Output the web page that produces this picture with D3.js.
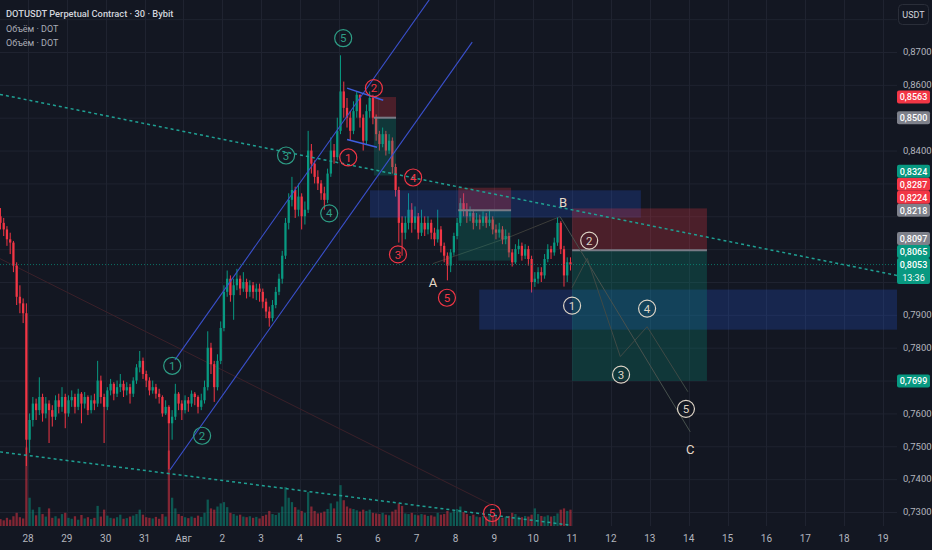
<!DOCTYPE html>
<html>
<head>
<meta charset="utf-8">
<script src="https://cdn.jsdelivr.net/npm/d3@7"></script>
<style>
  html, body { margin: 0; padding: 0; background: #131722; }
  svg { display: block; font-family: Roboto, "Noto Sans", sans-serif; }
</style>
</head>
<body>
<div id="chart"></div>
<script>
var width = 932, height = 550
var plotRight = 897, plotBottom = 526

var title = "DOTUSDT Perpetual Contract · 30 · Bybit"
var legendLines = ["Объём · DOT", "Объём · DOT"]

// 2h bars, first one opens 27 Jul 06:00
var firstBar = new Date(2025, 6, 27, 6)
var barHours = 2
var firstOpen = 0.8200

var closes = [
    0.8180, 0.8160, 0.8130, 0.8120, 0.8050, 0.7955, 0.7935, 0.7905, 0.7520, 0.7580,
    0.7630, 0.7610, 0.7650, 0.7600, 0.7630, 0.7610, 0.7590, 0.7640, 0.7620, 0.7650,
    0.7600, 0.7640, 0.7650, 0.7620, 0.7660, 0.7630, 0.7650, 0.7610, 0.7640, 0.7630,
    0.7700, 0.7650, 0.7620, 0.7670, 0.7690, 0.7660, 0.7680, 0.7690, 0.7670, 0.7680,
    0.7660, 0.7700, 0.7740, 0.7760, 0.7720, 0.7700, 0.7670, 0.7680, 0.7660, 0.7650,
    0.7600, 0.7620, 0.7570, 0.7590, 0.7660, 0.7630, 0.7610, 0.7640, 0.7630, 0.7660,
    0.7650, 0.7620, 0.7640, 0.7680, 0.7800, 0.7750, 0.7680, 0.7760, 0.7860, 0.7970,
    0.8010, 0.7960, 0.7990, 0.8010, 0.7980, 0.8000, 0.7970, 0.7990, 0.7970, 0.7980,
    0.7970, 0.7940, 0.7910, 0.7890, 0.7930, 0.7970, 0.8010, 0.8080, 0.8180, 0.8250,
    0.8280, 0.8220, 0.8260, 0.8200, 0.8220, 0.8400, 0.8360, 0.8320, 0.8300, 0.8270,
    0.8250, 0.8330, 0.8400, 0.8380, 0.8460, 0.8580, 0.8530, 0.8500, 0.8460, 0.8520,
    0.8570, 0.8500, 0.8430, 0.8520, 0.8560, 0.8500, 0.8450, 0.8420, 0.8450, 0.8400,
    0.8430, 0.8350, 0.8280, 0.8180, 0.8150, 0.8180, 0.8220, 0.8180, 0.8200, 0.8150,
    0.8180, 0.8160, 0.8180, 0.8150, 0.8130, 0.8160, 0.8110, 0.8080, 0.8050, 0.8090,
    0.8140, 0.8180, 0.8240, 0.8220, 0.8200, 0.8210, 0.8180, 0.8190, 0.8180, 0.8200,
    0.8180, 0.8190, 0.8160, 0.8150, 0.8160, 0.8130, 0.8140, 0.8090, 0.8060, 0.8100,
    0.8110, 0.8080, 0.8100, 0.8070, 0.8000, 0.8010, 0.8030, 0.8020, 0.8070, 0.8100,
    0.8090, 0.8120, 0.8180, 0.8100, 0.8020, 0.8060, 0.8053
]
var highs = [
    0.8225, 0.8195, 0.8170, 0.8150, 0.8125, 0.8060, 0.7990, 0.7950, 0.7935, 0.7600,
    0.7650, 0.7645, 0.7710, 0.7660, 0.7650, 0.7640, 0.7625, 0.7655, 0.7660, 0.7680,
    0.7660, 0.7655, 0.7670, 0.7660, 0.7675, 0.7665, 0.7665, 0.7655, 0.7655, 0.7660,
    0.7760, 0.7715, 0.7660, 0.7680, 0.7705, 0.7695, 0.7700, 0.7720, 0.7700, 0.7695,
    0.7690, 0.7710, 0.7750, 0.7790, 0.7770, 0.7730, 0.7710, 0.7700, 0.7690, 0.7675,
    0.7655, 0.7640, 0.7625, 0.7610, 0.7690, 0.7665, 0.7640, 0.7655, 0.7650, 0.7670,
    0.7665, 0.7655, 0.7660, 0.7700, 0.7850, 0.7815, 0.7760, 0.7780, 0.7880, 0.7990,
    0.8035, 0.8020, 0.8010, 0.8040, 0.8020, 0.8030, 0.8010, 0.8005, 0.8000, 0.7995,
    0.7995, 0.7980, 0.7950, 0.7925, 0.7945, 0.7985, 0.8025, 0.8095, 0.8195, 0.8270,
    0.8320, 0.8290, 0.8300, 0.8270, 0.8245, 0.8460, 0.8420, 0.8370, 0.8340, 0.8310,
    0.8290, 0.8345, 0.8440, 0.8420, 0.8500, 0.8690, 0.8610, 0.8560, 0.8520, 0.8550,
    0.8580, 0.8570, 0.8510, 0.8540, 0.8580, 0.8570, 0.8510, 0.8460, 0.8470, 0.8460,
    0.8450, 0.8440, 0.8360, 0.8290, 0.8200, 0.8200, 0.8270, 0.8240, 0.8230, 0.8210,
    0.8220, 0.8200, 0.8200, 0.8190, 0.8165, 0.8220, 0.8170, 0.8120, 0.8090, 0.8100,
    0.8150, 0.8195, 0.8255, 0.8270, 0.8240, 0.8230, 0.8220, 0.8210, 0.8205, 0.8215,
    0.8210, 0.8220, 0.8200, 0.8175, 0.8180, 0.8170, 0.8160, 0.8150, 0.8100, 0.8115,
    0.8130, 0.8120, 0.8115, 0.8110, 0.8080, 0.8030, 0.8045, 0.8045, 0.8085, 0.8115,
    0.8110, 0.8135, 0.8196, 0.8185, 0.8110, 0.8075, 0.8075
]
var lows = [
    0.8160, 0.8140, 0.8110, 0.8085, 0.8030, 0.7930, 0.7905, 0.7875, 0.7440, 0.7480,
    0.7560, 0.7580, 0.7595, 0.7575, 0.7585, 0.7510, 0.7560, 0.7580, 0.7600, 0.7605,
    0.7555, 0.7590, 0.7620, 0.7600, 0.7610, 0.7570, 0.7615, 0.7595, 0.7600, 0.7610,
    0.7620, 0.7630, 0.7510, 0.7610, 0.7655, 0.7640, 0.7650, 0.7665, 0.7650, 0.7655,
    0.7630, 0.7650, 0.7690, 0.7725, 0.7705, 0.7680, 0.7655, 0.7660, 0.7645, 0.7630,
    0.7590, 0.7595, 0.7430, 0.7520, 0.7580, 0.7610, 0.7580, 0.7600, 0.7605, 0.7620,
    0.7625, 0.7600, 0.7610, 0.7630, 0.7670, 0.7720, 0.7635, 0.7670, 0.7750, 0.7850,
    0.7955, 0.7940, 0.7885, 0.7975, 0.7960, 0.7970, 0.7950, 0.7955, 0.7950, 0.7945,
    0.7940, 0.7920, 0.7890, 0.7864, 0.7880, 0.7920, 0.7960, 0.7995, 0.8070, 0.8160,
    0.8230, 0.8195, 0.8200, 0.8160, 0.8175, 0.8210, 0.8330, 0.8300, 0.8280, 0.8250,
    0.8220, 0.8240, 0.8320, 0.8360, 0.8370, 0.8450, 0.8500, 0.8470, 0.8430, 0.8450,
    0.8500, 0.8470, 0.8400, 0.8420, 0.8500, 0.8480, 0.8430, 0.8400, 0.8410, 0.8385,
    0.8390, 0.8330, 0.8260, 0.8120, 0.8080, 0.8130, 0.8160, 0.8150, 0.8160, 0.8130,
    0.8140, 0.8140, 0.8145, 0.8130, 0.8110, 0.8120, 0.8090, 0.8060, 0.8005, 0.8030,
    0.8080, 0.8130, 0.8170, 0.8200, 0.8180, 0.8185, 0.8160, 0.8170, 0.8160, 0.8170,
    0.8165, 0.8170, 0.8145, 0.8130, 0.8135, 0.8115, 0.8115, 0.8075, 0.8047, 0.8055,
    0.8085, 0.8065, 0.8070, 0.8050, 0.7968, 0.7985, 0.7995, 0.8000, 0.8010, 0.8060,
    0.8070, 0.8080, 0.8110, 0.8085, 0.7986, 0.8000, 0.8035
]
var volumes = [
    220, 180, 260, 200, 310, 420, 280, 240, 2500, 900,
    520, 340, 600, 380, 300, 560, 260, 310, 240, 380,
    420, 260, 230, 310, 200, 350, 240, 280, 220, 260,
    640, 300, 520, 330, 260, 240, 280, 360, 230, 250,
    300, 330, 380, 520, 360, 280, 260, 240, 290, 230,
    380, 300, 2400, 900, 560, 380, 320, 280, 250, 300,
    260, 330, 290, 420, 840, 560, 520, 620, 720, 760,
    600, 420, 380, 330, 360, 300, 280, 310, 260, 290,
    240, 320, 360, 480, 380, 350, 420, 620, 1240, 900,
    760, 600, 520, 480, 420, 1080, 620, 480, 400, 420,
    460, 540, 720, 560, 780, 1300, 820, 620, 560, 540,
    500, 460, 520, 480, 520, 420, 400, 380, 420, 360,
    340, 460, 520, 720, 640, 400, 380, 420, 360, 340,
    380, 360, 320, 340, 300, 420, 360, 380, 480, 420,
    480, 540, 620, 440, 380, 320, 360, 300, 280, 320,
    300, 320, 340, 300, 280, 260, 300, 320, 420, 380,
    300, 280, 320, 300, 360, 560, 380, 320, 300, 340,
    300, 320, 400, 520, 560, 480, 520
]
var countdown = "13:36"

var dayLabels = ["28", "29", "30", "31", "Авг", "2", "3", "4", "5", "6", "7", "8",
                 "9", "10", "11", "12", "13", "14", "15", "16", "17", "18", "19"]
var priceTicks = [0.73, 0.74, 0.75, 0.76, 0.77, 0.78, 0.79, 0.80,
                  0.81, 0.82, 0.83, 0.84, 0.85, 0.86, 0.87]
var gridPrices = [0.72].concat(priceTicks, [0.88])

// drawings, times are days after 28 Jul 00:00
var trendUpper = [[-0.72, 0.8571], [22.36, 0.8020]]
var trendLower = [[-0.72, 0.7483], [13.95, 0.7260]]
var channelTop = [[3.78, 0.7763], [10.60, 0.8905]]
var channelBottom = [[3.65, 0.7428], [11.43, 0.8730]]
var flagTop = [[8.21, 0.8590], [9.14, 0.8553]]
var flagBottom = [[8.21, 0.8434], [8.98, 0.8410]]
var faintRed = [[-0.72, 0.8071], [11.94, 0.7321]]
var abPath = [[10.42, 0.8056], [12.35, 0.8135], [13.69, 0.8199]]
var bcPath = [[13.69, 0.8199], [17.04, 0.7544]]
var projPath = [[14.0, 0.7983], [14.39, 0.8072], [15.24, 0.7773], [15.93, 0.7864], [16.98, 0.7666]]

var positions = [
    { from: 8.90, to: 9.47, stop: 0.8563, entry: 0.8500, target: 0.8324 },
    { from: 11.07, to: 12.43, stop: 0.8287, entry: 0.8218, target: 0.8065 },
    { from: 14.00, to: 17.47, stop: 0.8224, entry: 0.8097, target: 0.7699 }
]
var zones = [
    { from: 8.80, to: 15.77, top: 0.8279, bottom: 0.8196 },
    { from: 11.61, to: 23.0, top: 0.7977, bottom: 0.7855 }
]

var greenWave = [["1", 3.71, 0.7745], ["2", 4.48, 0.7532], ["3", 6.64, 0.8385], ["4", 7.75, 0.8209], ["5", 8.11, 0.8742]]
var redWave = [["1", 8.24, 0.8379], ["2", 8.90, 0.8590], ["3", 9.52, 0.8084], ["4", 9.91, 0.8318], ["5", 10.78, 0.7952], ["5", 11.94, 0.7297]]
var lightWave = [["1", 14.00, 0.7928], ["2", 14.44, 0.8126], ["3", 15.26, 0.7718], ["4", 15.93, 0.7919], ["5", 16.93, 0.7614]]
var letters = [["A", 10.42, 0.7998], ["B", 13.77, 0.8242], ["C", 17.04, 0.7492]]

var upColor = "#089981", downColor = "#f23645", grayTag = "#7e818b"

var origin = new Date(2025, 6, 28)
function dayTime(d) {
    return new Date(origin.getTime() + d * 864e5)
}

var x = d3.scaleTime()
    .domain([origin, new Date(2025, 7, 19)])
    .range([28, 883])
var y = d3.scaleLinear()
    .domain([0.73, 0.87])
    .range([512, 52])
var vy = d3.scaleLinear()
    .domain([0, 2800])
    .range([0, 88])

function px(p) { return x(dayTime(p[0])) }
function py(p) { return y(p[1]) }
var line = d3.line().x(px).y(py)
var priceFormat = function(p) { return d3.format(".4f")(p).replace(".", ",") }

var bars = closes.map(function(c, i) {
    return {
        time: d3.timeHour.offset(firstBar, i * barHours + barHours / 2),
        open: i ? closes[i - 1] : firstOpen,
        close: c,
        high: highs[i],
        low: lows[i],
        volume: volumes[i]
    }
})
var barStep = x(d3.timeHour.offset(origin, barHours)) - x(origin)
var bodyWidth = barStep * 0.7

var svg = d3.select("#chart")
    .append("svg")
        .attr("width", width)
        .attr("height", height)

svg.append("rect")
    .attr("width", width)
    .attr("height", height)
    .attr("fill", "#131722")

svg.append("defs")
    .append("clipPath")
        .attr("id", "plot-clip")
    .append("rect")
        .attr("width", plotRight)
        .attr("height", plotBottom)

var plot = svg.append("g").attr("clip-path", "url(#plot-clip)")

// grid
plot.append("g")
    .selectAll("line")
    .data(gridPrices)
    .enter().append("line")
        .attr("x1", 0).attr("x2", plotRight)
        .attr("y1", function(d) { return y(d) + 0.5 })
        .attr("y2", function(d) { return y(d) + 0.5 })
        .attr("stroke", "#1f2330")

var days = d3.timeDay.range(origin, new Date(2025, 7, 20))
plot.append("g")
    .selectAll("line")
    .data(days)
    .enter().append("line")
        .attr("x1", function(d) { return Math.round(x(d)) + 0.5 })
        .attr("x2", function(d) { return Math.round(x(d)) + 0.5 })
        .attr("y1", 0).attr("y2", plotBottom)
        .attr("stroke", "#1f2330")

// volume
plot.append("g")
    .selectAll("rect")
    .data(bars)
    .enter().append("rect")
        .attr("x", function(d) { return x(d.time) - bodyWidth / 2 })
        .attr("width", bodyWidth)
        .attr("y", function(d) { return plotBottom - vy(d.volume) })
        .attr("height", function(d) { return vy(d.volume) })
        .attr("fill", function(d) { return d.close >= d.open ? upColor : downColor })
        .attr("opacity", 0.5)

// faint helper lines
plot.append("path").attr("d", line(faintRed))
    .attr("fill", "none").attr("stroke", "#3a2029").attr("stroke-width", 1)
plot.append("path").attr("d", line(abPath))
    .attr("fill", "none").attr("stroke", "#3c3d3a").attr("stroke-width", 1)

// candles
var candle = plot.append("g")
    .selectAll("g")
    .data(bars)
    .enter().append("g")

candle.append("line")
    .attr("x1", function(d) { return x(d.time) })
    .attr("x2", function(d) { return x(d.time) })
    .attr("y1", function(d) { return y(d.high) })
    .attr("y2", function(d) { return y(d.low) })
    .attr("stroke", function(d) { return d.close >= d.open ? upColor : downColor })
    .attr("stroke-width", 1)

candle.append("rect")
    .attr("x", function(d) { return x(d.time) - bodyWidth / 2 })
    .attr("width", bodyWidth)
    .attr("y", function(d) { return y(Math.max(d.open, d.close)) })
    .attr("height", function(d) { return Math.max(1, Math.abs(y(d.open) - y(d.close))) })
    .attr("fill", function(d) { return d.close >= d.open ? upColor : downColor })

// zones and positions
plot.append("g")
    .selectAll("rect")
    .data(zones)
    .enter().append("rect")
        .attr("x", function(d) { return x(dayTime(d.from)) })
        .attr("width", function(d) { return x(dayTime(d.to)) - x(dayTime(d.from)) })
        .attr("y", function(d) { return y(d.top) })
        .attr("height", function(d) { return y(d.bottom) - y(d.top) })
        .attr("fill", "rgba(41, 98, 255, 0.2)")

var position = plot.append("g")
    .selectAll("g")
    .data(positions)
    .enter().append("g")

position.append("rect")
    .attr("x", function(d) { return x(dayTime(d.from)) })
    .attr("width", function(d) { return x(dayTime(d.to)) - x(dayTime(d.from)) })
    .attr("y", function(d) { return y(d.stop) })
    .attr("height", function(d) { return y(d.entry) - y(d.stop) })
    .attr("fill", "rgba(242, 54, 69, 0.25)")

position.append("rect")
    .attr("x", function(d) { return x(dayTime(d.from)) })
    .attr("width", function(d) { return x(dayTime(d.to)) - x(dayTime(d.from)) })
    .attr("y", function(d) { return y(d.entry) })
    .attr("height", function(d) { return y(d.target) - y(d.entry) })
    .attr("fill", "rgba(8, 153, 129, 0.25)")

position.append("line")
    .attr("x1", function(d) { return x(dayTime(d.from)) })
    .attr("x2", function(d) { return x(dayTime(d.to)) })
    .attr("y1", function(d) { return y(d.entry) })
    .attr("y2", function(d) { return y(d.entry) })
    .attr("stroke", "#787b86")
    .attr("stroke-width", 2)

// trend lines
plot.append("path").attr("d", line(trendUpper))
    .attr("fill", "none").attr("stroke", "#1fa093").attr("stroke-width", 1.5).attr("stroke-dasharray", "3,3")
plot.append("path").attr("d", line(trendLower))
    .attr("fill", "none").attr("stroke", "#1fa093").attr("stroke-width", 1.5).attr("stroke-dasharray", "3,3")

;[channelTop, channelBottom].forEach(function(pts) {
    plot.append("path").attr("d", line(pts))
        .attr("fill", "none").attr("stroke", "#3a50cc").attr("stroke-width", 1.1)
})
;[flagTop, flagBottom].forEach(function(pts) {
    plot.append("path").attr("d", line(pts))
        .attr("fill", "none").attr("stroke", "#3f5fe0").attr("stroke-width", 1.5)
})

plot.append("path").attr("d", line(bcPath))
    .attr("fill", "none").attr("stroke", "#48524e").attr("stroke-width", 1)
plot.append("path").attr("d", line(projPath))
    .attr("fill", "none").attr("stroke", "#3f4a46").attr("stroke-width", 1)

// last price line
plot.append("line")
    .attr("x1", 0).attr("x2", plotRight)
    .attr("y1", y(closes[closes.length - 1]))
    .attr("y2", y(closes[closes.length - 1]))
    .attr("stroke", upColor)
    .attr("stroke-opacity", 0.7)
    .attr("stroke-dasharray", "1,2")

// wave labels
function drawWave(labels, color) {
    var item = plot.append("g")
        .selectAll("g")
        .data(labels)
        .enter().append("g")
            .attr("transform", function(d) { return "translate(" + px([d[1]]) + "," + y(d[2]) + ")" })

    item.append("circle")
        .attr("r", 8.5)
        .attr("fill", "none")
        .attr("stroke", color)
        .attr("stroke-width", 1.2)

    item.append("text")
        .text(function(d) { return d[0] })
        .attr("text-anchor", "middle")
        .attr("dy", "0.36em")
        .attr("font-size", 11.5)
        .attr("fill", color)
}
drawWave(greenWave, "#2e9e86")
drawWave(redWave, "#f23645")
drawWave(lightWave, "#ded4c6")

plot.append("g")
    .selectAll("text")
    .data(letters)
    .enter().append("text")
        .text(function(d) { return d[0] })
        .attr("x", function(d) { return px([d[1]]) })
        .attr("y", function(d) { return y(d[2]) })
        .attr("dy", "0.36em")
        .attr("text-anchor", "middle")
        .attr("font-size", 13)
        .attr("fill", "#e6dac8")

// legend
svg.append("text")
    .text(title)
    .attr("x", 6).attr("y", 17)
    .attr("font-size", 9.3).attr("font-weight", 500)
    .attr("fill", "#d1d4dc")
svg.append("g")
    .selectAll("text")
    .data(legendLines)
    .enter().append("text")
        .text(function(d) { return d })
        .attr("x", 6)
        .attr("y", function(d, i) { return 32 + i * 14 })
        .attr("font-size", 9)
        .attr("fill", "#a9acb6")

// time axis
svg.append("g")
    .selectAll("text")
    .data(days)
    .enter().append("text")
        .text(function(d, i) { return dayLabels[i] })
        .attr("x", function(d) { return x(d) })
        .attr("y", 542)
        .attr("text-anchor", "middle")
        .attr("font-size", 10)
        .attr("fill", "#b2b5be")

var usdt = svg.append("g")
usdt.append("rect")
    .attr("x", 898.5).attr("y", 4.5)
    .attr("width", 30).attr("height", 20)
    .attr("rx", 4)
    .attr("fill", "#131722")
    .attr("stroke", "#2a2e39")
usdt.append("text")
    .text("USDT")
    .attr("x", 913.5).attr("y", 14.5)
    .attr("dy", "0.35em")
    .attr("text-anchor", "middle")
    .attr("font-size", 9)
    .attr("fill", "#d1d4dc")

// price tags, pushed up where they collide
var tags = []
positions.forEach(function(p) {
    tags.push({ price: p.stop, color: downColor })
    tags.push({ price: p.entry, color: grayTag })
    tags.push({ price: p.target, color: upColor })
})
tags.push({ price: closes[closes.length - 1], color: upColor, sub: countdown })

tags.forEach(function(t) {
    t.h = t.sub ? 26 : 13
    t.top = y(t.price) - 6.5
})
tags.sort(function(a, b) { return b.top - a.top })
var limit = Infinity
tags.forEach(function(t) {
    if (t.top + t.h > limit) t.top = limit - t.h
    limit = t.top
})

// price axis, labels hidden behind tags are skipped
var visibleTicks = priceTicks.filter(function(p) {
    var ty = y(p)
    return !tags.some(function(t) { return ty + 5 > t.top && ty - 5 < t.top + t.h })
})
svg.append("g")
    .selectAll("text")
    .data(visibleTicks)
    .enter().append("text")
        .text(priceFormat)
        .attr("x", 903)
        .attr("y", function(d) { return y(d) })
        .attr("dy", "0.35em")
        .attr("font-size", 9.5)
        .attr("fill", "#b2b5be")

var tag = svg.append("g")
    .selectAll("g")
    .data(tags)
    .enter().append("g")
        .attr("transform", function(d) { return "translate(897," + d.top + ")" })

tag.append("rect")
    .attr("width", 33)
    .attr("height", function(d) { return d.h })
    .attr("rx", 2)
    .attr("fill", function(d) { return d.color })

tag.append("text")
    .text(function(d) { return priceFormat(d.price) })
    .attr("x", 16.5).attr("y", 6.5)
    .attr("dy", "0.35em")
    .attr("text-anchor", "middle")
    .attr("font-size", 9)
    .attr("font-weight", 500)
    .attr("fill", "#ffffff")

tag.filter(function(d) { return d.sub })
    .append("text")
        .text(function(d) { return d.sub })
        .attr("x", 16.5).attr("y", 19.5)
        .attr("dy", "0.35em")
        .attr("text-anchor", "middle")
        .attr("font-size", 9)
        .attr("fill", "#ffffff")
</script>
</body>
</html>
